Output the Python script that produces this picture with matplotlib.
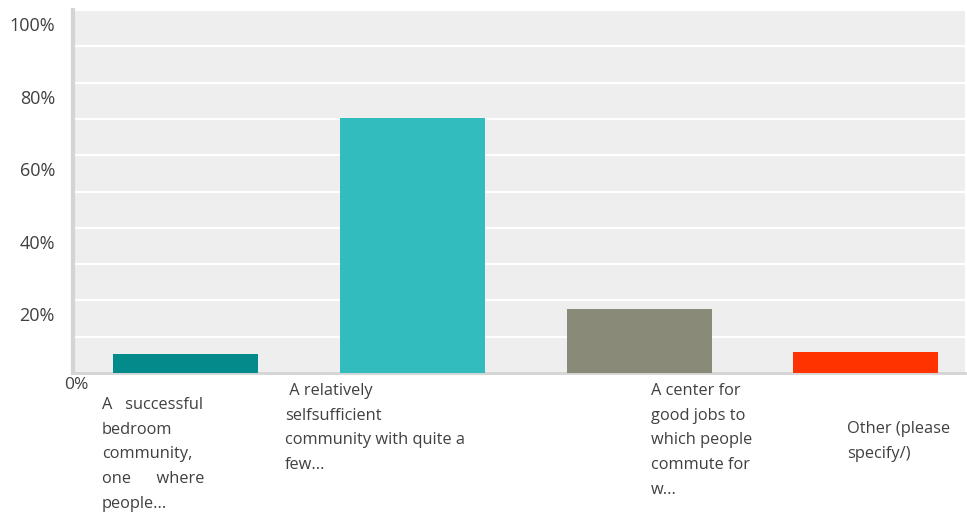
import matplotlib
matplotlib.use("Agg")
import matplotlib.pyplot as plt
import matplotlib.transforms as mtransforms
import numpy as np

categories = [
    "A   successful\nbedroom\ncommunity,\none      where\npeople...",
    " A relatively\nselfsufficient\ncommunity with quite a\nfew...",
    "A center for\ngood jobs to\nwhich people\ncommute for\nw...",
    "Other (please\nspecify/)",
]
values = [5.2, 70.2, 17.6, 5.8]
colors = ["#038a8a", "#33bcbe", "#8a8a78", "#ff3300"]
ytick_values = [20, 40, 60, 80, 100]
ytick_labels = ["20%", "40%", "60%", "80%", "100%"]

W, H = 967, 513
fig = plt.figure(figsize=(W / 100, H / 100), dpi=100)
plt.rcParams['font.family'] = ['Open Sans', 'DejaVu Sans']
ax = fig.add_axes([73 / W, (H - 373) / H, (965 - 73) / W, (373 - 10) / H])
ax.set_facecolor("#eeeeee")

x = np.arange(len(values))
ax.bar(x, values, width=0.64, color=colors, zorder=3)
ax.set_xlim(-0.496, 3.437)
ax.set_ylim(0, 100)

ax.set_yticks(ytick_values)
ax.set_yticklabels(ytick_labels)
ax.set_yticks(np.arange(10, 100, 10), minor=True)
ax.grid(True, which="both", axis="y", color="white", linewidth=1.6, zorder=1)
ax.set_axisbelow(True)
ax.tick_params(axis="y", which="both", length=0, pad=13, labelsize=13, labelcolor="#404040")
ax.set_xticks([])

offset = mtransforms.ScaledTranslation(0, -14 / 100, fig.dpi_scale_trans)
for lbl in ax.get_yticklabels():
    lbl.set_transform(lbl.get_transform() + offset)

for side in ["top", "right"]:
    ax.spines[side].set_visible(False)
ax.spines["left"].set_color("#d4d4d4")
ax.spines["left"].set_linewidth(3)
ax.spines["bottom"].set_color("#d4d4d4")
ax.spines["bottom"].set_linewidth(2)

# 0% label (placed oddly in the original)
fig.text(64 / W, 1 - 385 / H, "0%", fontsize=12.5, color="#404040", ha="left", va="center")

label_pos = [(102, 397), (285, 383), (651, 383), (847, 421)]
for (px, py), text in zip(label_pos, categories):
    fig.text(px / W, 1 - py / H, text, fontsize=11.8, color="#404040",
             ha="left", va="top", linespacing=1.72)

fig.savefig("out.png", dpi=100)
